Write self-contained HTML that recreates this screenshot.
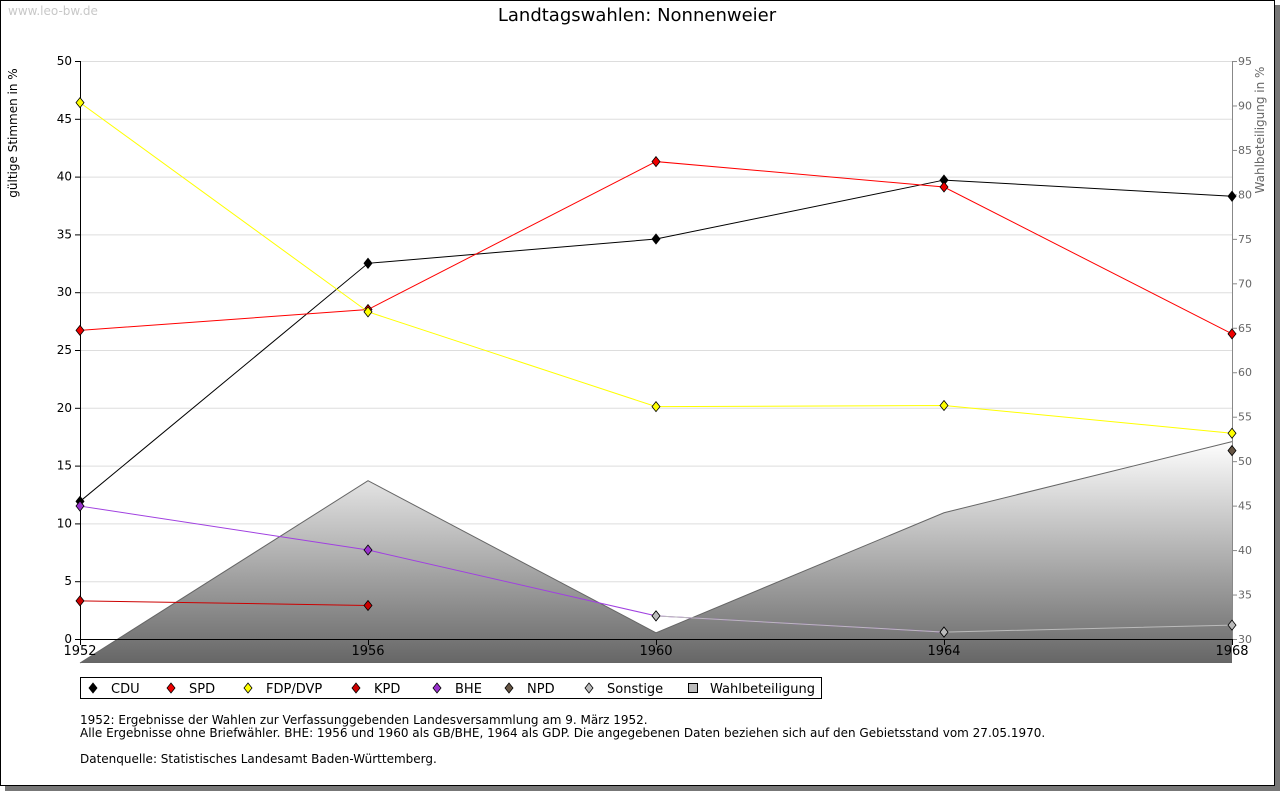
<!DOCTYPE html>
<html><head><meta charset="utf-8"><style>
body{margin:0;background:#fff;font-family:"DejaVu Sans","Liberation Sans",sans-serif;}
#wrap{position:relative;width:1280px;height:791px;overflow:hidden}
</style></head><body><div id="wrap">
<svg id="s" width="1280" height="791" xmlns="http://www.w3.org/2000/svg" style="position:absolute;left:0;top:0">
<defs><linearGradient id="g" x1="0" y1="440" x2="0" y2="663" gradientUnits="userSpaceOnUse"><stop offset="0" stop-color="#ffffff"/><stop offset="1" stop-color="#666666"/></linearGradient></defs>
<rect x="1274" y="5" width="6" height="786" fill="#777"/><rect x="5" y="785" width="1275" height="6" fill="#777"/>
<rect x="0.5" y="0.5" width="1274" height="785" fill="#fff" stroke="#000"/>
<text x="8" y="15" font-size="12" fill="#c8c8c8">www.leo-bw.de</text>
<text x="637" y="21" font-size="18" text-anchor="middle">Landtagswahlen: Nonnenweier</text>
<text transform="translate(17,133) rotate(-90)" font-size="12" text-anchor="middle">gültige Stimmen in %</text>
<text transform="translate(1264,130) rotate(-90)" font-size="12" text-anchor="middle" fill="#666">Wahlbeteiligung in %</text>
<g id="grid"></g><g id="area"></g><g id="axes"></g><g id="lines"></g>
<rect x="80.5" y="677.5" width="741" height="21" fill="#fff" stroke="#000"/>
<g id="legend"></g>
<text font-size="12"><tspan x="80" y="724">1952: Ergebnisse der Wahlen zur Verfassunggebenden Landesversammlung am 9. März 1952.</tspan><tspan x="80" y="737">Alle Ergebnisse ohne Briefwähler. BHE: 1956 und 1960 als GB/BHE, 1964 als GDP. Die angegebenen Daten beziehen sich auf den Gebietsstand vom 27.05.1970.</tspan><tspan x="80" y="763">Datenquelle: Statistisches Landesamt Baden-Württemberg.</tspan></text>
</svg></div>
<script>
const years=["1952","1956","1960","1964","1968"];
const cdu=[11.9,32.5,34.6,39.7,38.3];
const spd=[26.7,28.5,41.3,39.1,26.4];
const fdp=[46.4,28.3,20.1,20.2,17.8];
const kpd=[3.3,2.9,null,null,null];
const bhe=[11.5,7.7,2.0,0.6,null];
const npd=[null,null,null,null,16.3];
const sonst=[null,null,2.0,0.6,1.2];
const turnout=[27.3,47.8,30.7,44.2,52.2];
const leftTicks=[0,5,10,15,20,25,30,35,40,45,50];
const rightTicks=[30,35,40,45,50,55,60,65,70,75,80,85,90,95];
const NS="http://www.w3.org/2000/svg";
const X=i=>80+i*288, Y=v=>639-v*11.56, Y2=t=>639-(t-30)*8.892;
function el(p,t,a){const e=document.createElementNS(NS,t);for(const k in a)e.setAttribute(k,a[k]);document.getElementById(p).appendChild(e);return e;}
leftTicks.forEach(v=>{
 if(v>0){const l=el('grid','line',{x1:80,x2:1232,y1:Y(v)+.5,y2:Y(v)+.5,stroke:'#ddd'});
 
 }
 el('axes','line',{x1:75,x2:80,y1:Y(v)+.5,y2:Y(v)+.5,stroke:'#000'});
 const t=el('axes','text',{x:72,y:Y(v)+4,'font-size':12,'text-anchor':'end'});t.textContent=v;
 
 
});
rightTicks.forEach(v=>{
 el('axes','line',{x1:1232,x2:1237,y1:Y2(v)+.5,y2:Y2(v)+.5,stroke:'#888'});
 const t=el('axes','text',{x:1238,y:Y2(v)+4,'font-size':11,fill:'#666'});t.textContent=v;
 
 
});
let d='M'+X(0)+',663';turnout.forEach((t,i)=>d+=' L'+X(i)+','+Y2(t));d+=' L'+X(4)+',663 Z';
const a=el('area','path',{d:d,fill:'url(#g)'});


let d2='';turnout.forEach((t,i)=>d2+=(i?' L':'M')+X(i)+','+Y2(t));
el('area','path',{d:d2,fill:'none',stroke:'#666'});
el('axes','line',{x1:80.5,x2:80.5,y1:61,y2:639,stroke:'#000'});
el('axes','line',{x1:1232.5,x2:1232.5,y1:61,y2:639,stroke:'#888'});
el('axes','line',{x1:80,x2:1232,y1:639.5,y2:639.5,stroke:'#000'});
years.forEach((y,i)=>{el('axes','line',{x1:X(i)+.5,x2:X(i)+.5,y1:639,y2:645,stroke:'#000'});
 const t=el('axes','text',{x:X(i),y:655,'font-size':13,'text-anchor':'middle'});t.textContent=y;
 
 });
const series=[["CDU",cdu,'#000','#000'],["SPD",spd,'#f00','#e00'],["FDP/DVP",fdp,'#ff0','#ff0'],["KPD",kpd,'#c00','#c00'],["BHE",bhe,'#a040e0','#9933cc'],["NPD",npd,'#654','#654'],["Sonstige",sonst,'#bbb','#bbb']];
function dia(p,x,y,f){return el(p,'path',{d:`M${x},${y-5}L${x+4},${y}L${x},${y+5}L${x-4},${y}Z`,fill:f,stroke:'#000','stroke-width':.8});}
series.forEach(([n,v,lc,mc])=>{
 let p='';v.forEach((val,i)=>{if(val!=null)p+=(p&&v[i-1]!=null?' L':' M')+X(i)+','+Y(val);});
 const l=el('lines','path',{d:p,fill:'none',stroke:lc});
 
 
 v.forEach((val,i)=>{if(val!=null){const m=dia('lines',X(i),Y(val),mc);
 
 }});
});
const lx=[93,171,248,356,437,509,589];
series.forEach(([n,v,lc,mc],i)=>{dia('legend',lx[i],688,mc);
 const t=el('legend','text',{x:lx[i]+18,y:693,'font-size':13});t.textContent=n;
 
 });
el('legend','rect',{x:688.5,y:683.5,width:9,height:9,fill:'#bbb',stroke:'#000'});
const t=el('legend','text',{x:710,y:693,'font-size':13});t.textContent='Wahlbeteiligung';


</script></body></html>
